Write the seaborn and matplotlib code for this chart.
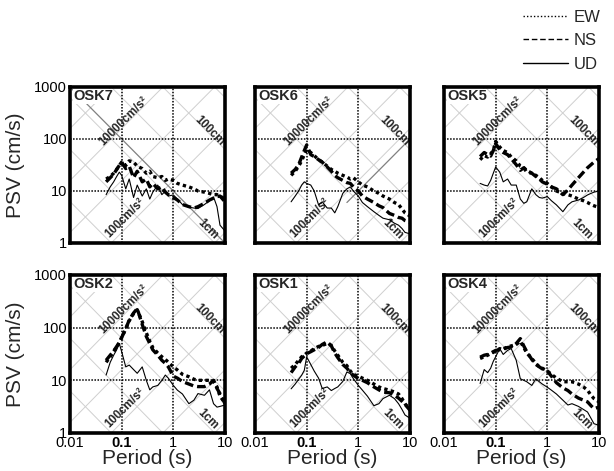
import numpy as np
import pandas as pd
import matplotlib
matplotlib.use("Agg")
import matplotlib.pyplot as plt
import seaborn as sns
from matplotlib.lines import Line2D

# ---------------- data ----------------
periods = [0.05, 0.06, 0.07, 0.08, 0.09, 0.1, 0.12, 0.14, 0.17, 0.2, 0.25, 0.3, 0.35, 0.4,
           0.5, 0.6, 0.7, 0.8, 1.0, 1.2, 1.5, 2.0, 2.5, 3.0, 4.0, 5.0, 6.0, 7.0, 8.0, 10.0]

components = ["EW", "NS", "UD"]
stations_top = ["OSK7", "OSK6", "OSK5"]
stations_bottom = ["OSK2", "OSK1", "OSK4"]

osk7_ew = [17, 19, 22, 26, 31, 36, 31, 38, 36, 30, 27, 22, 24, 19, 18, 19, 16, 17, 16, 14,
           13, 12, 11, 10, 9.5, 9, 8.5, 8.5, 8, 7]
osk7_ns = [15, 18, 21, 26, 31, 36, 27, 30, 18, 24, 15, 17, 12, 14, 11, 12, 9.5, 8.5, 7.5, 6.7,
           5.5, 5, 4.7, 5, 5.8, 6.7, 7.3, 7.8, 8, 6.2]
osk7_ud = [8.5, 12, 15, 19, 23, 20, 11, 17, 7.5, 13, 8, 11, 7, 9.5, 13, 8.5, 10, 8, 8.4, 7,
           5.5, 4.9, 4.7, 4.6, 5.5, 6.5, 7.7, 5, 2.2, 1.7]

osk6_ew = [20, 24, 30, 38, 50, 62, 55, 48, 40, 36, 30, 26, 24, 22, 20, 18.6, 17, 18, 15, 13,
           12, 10, 9, 8, 7, 6, 5.5, 4.5, 3.8, 3.3]
osk6_ns = [22, 26, 32, 45, 60, 77, 50, 46, 40, 36, 29, 24, 20, 18, 16, 14.5, 14, 12, 10,
           8, 7, 6, 5.2, 4.8, 3.7, 3.4, 3.1, 3, 2.7, 2.5]
osk6_ud = [6.2, 8, 10, 13, 15, 14, 13, 10, 5.4, 6.2, 4.7, 4.7, 3.8, 5, 9, 11, 12, 10, 8,
           6, 5, 4, 3.4, 3, 2.8, 2.4, 2.2, 1.9, 1.6, 1.5]

osk5_ew = [40, 48, 45, 52, 60, 90, 70, 60, 55, 45, 38, 30, 28, 25, 22, 20, 18, 16, 14, 12,
           10, 9, 8.5, 8, 7, 6.5, 6, 5.5, 5.2, 4.8]
osk5_ns = [46, 55, 50, 47, 60, 82, 62, 55, 50, 42, 32, 25, 28, 23, 22, 19, 17, 15, 13.5, 12,
           11, 8.5, 10.5, 13, 18, 23, 28, 32, 36, 42]
osk5_ud = [14, 13, 12.5, 16, 22, 29, 23, 15, 17, 13, 13, 7, 5.8, 6.2, 11, 8.5, 7.5, 7.3, 7.8,
           6.5, 5.4, 4, 5.4, 6.2, 6.7, 7.5, 8.4, 9, 9.5, 10]

osk2_ew = [22, 28, 35, 43, 52, 65, 95, 135, 185, 220, 130, 80, 55, 42, 33, 28, 25, 22, 18,
           15.7, 13, 11.7, 10.5, 10, 10, 10, 9.5, 7.5, 5, 3.7]
osk2_ns = [24, 30, 36, 44, 52, 65, 95, 140, 190, 230, 115, 68, 50, 38, 30, 24, 21, 18, 12,
           11, 9.5, 8.5, 7.8, 7.6, 7.6, 8.5, 10, 7, 5.6, 3.6]
osk2_ud = [12.6, 22, 30, 38, 50, 35, 18, 19.5, 16, 13.6, 18, 10, 6.6, 7.5, 8, 10, 12.6, 11,
           8, 6.5, 5.5, 3.6, 4.2, 5.6, 5.2, 6.6, 3.6, 3.1, 3.2, 3.4]

osk1_ew = [17, 20, 24, 28, 30, 33, 36, 40, 44, 46, 50, 46, 36, 30, 22, 19, 15, 13, 12, 11,
           10, 8.5, 7.5, 7, 6.5, 6, 5.5, 4.5, 3.6, 2.8]
osk1_ns = [14, 18, 21, 26, 29, 32, 35, 38, 42, 48, 54, 45, 33, 27, 20, 17, 14, 12.5, 10.8,
           10, 9, 7.5, 6.6, 6, 5.8, 5.2, 4.6, 4, 3.5, 2.7]
osk1_ud = [6.9, 8.5, 10.5, 12.5, 15.5, 28, 20, 15, 11, 7, 7.5, 6.4, 7, 7.5, 9.5, 14.4, 13.4,
           10.8, 8, 6.5, 5, 3.3, 3.6, 4.5, 5.2, 4.5, 3.6, 2.8, 2.2, 1.9]

osk4_ew = [26, 28, 30, 32, 34, 36, 40, 38, 44, 45, 48, 55, 42, 33, 26, 21, 18, 17, 15, 13,
           11, 9.4, 9.4, 9.4, 8.5, 7.5, 6.5, 5.2, 4.5, 3.9]
osk4_ns = [27.5, 30, 31, 33, 35, 37, 38, 40, 42, 43, 50, 62, 45, 35, 25, 20, 18, 16.5, 15,
           12, 9, 7.2, 6.4, 5.5, 4.6, 4.2, 3.9, 3.3, 2.9, 3.1]
osk4_ud = [8.7, 16, 14, 17, 23, 28, 40, 31, 37, 40, 24, 10.7, 10, 9.4, 8, 10.7, 9.4, 8.5,
           7.4, 6.5, 5.5, 4.2, 3.4, 3.6, 3.2, 2.8, 2.5, 1.9, 1.5, 1.4]

series = {
    "OSK7": (osk7_ew, osk7_ns, osk7_ud),
    "OSK6": (osk6_ew, osk6_ns, osk6_ud),
    "OSK5": (osk5_ew, osk5_ns, osk5_ud),
    "OSK2": (osk2_ew, osk2_ns, osk2_ud),
    "OSK1": (osk1_ew, osk1_ns, osk1_ud),
    "OSK4": (osk4_ew, osk4_ns, osk4_ud),
}

x_ticks = [0.01, 0.1, 1, 10]
x_ticklabels = ["0.01", "0.1", "1", "10"]
y_ticks = [1, 10, 100, 1000]
y_ticklabels = ["1", "10", "100", "1000"]

# ---------------- styling ----------------
sns.set_style("white")
plt.rcParams["font.family"] = ["Liberation Sans", "DejaVu Sans"]

W, H = 614, 471
fig = plt.figure(figsize=(W / 100, H / 100), dpi=100)

lefts = [70, 255, 444]
pw = 155
rows = [(87, 243), (275, 433)]

line_sizes = {"EW": 2.4, "NS": 2.4, "UD": 0.8}
line_dashes = {"EW": (1, 1), "NS": (2.6, 1.2), "UD": ""}

tgrid = np.logspace(-2, 1, 200)

for r, names in enumerate([stations_top, stations_bottom]):
    top, bot = rows[r]
    for c, name in enumerate(names):
        ax = fig.add_axes([lefts[c] / W, 1 - bot / H, pw / W, (bot - top) / H])
        ax.set_xscale("log")
        ax.set_yscale("log")

        # tripartite diagonal grid (constant acceleration / displacement)
        for k in range(-2, 9):
            ax.plot(tgrid, (10.0 ** k) * tgrid / (2 * np.pi), color="#cfcfcf", lw=0.7, zorder=0.4)
        for k in range(-5, 5):
            ax.plot(tgrid, 2 * np.pi * (10.0 ** k) / tgrid, color="#cfcfcf", lw=0.7, zorder=0.4)
        if name == "OSK7":
            ax.plot(tgrid, 10.0 / tgrid, color="#808080", lw=0.9, zorder=0.45)
        if name == "OSK6":
            tt = tgrid[tgrid >= 0.6]
            ax.plot(tt, 10.0 * tt, color="#808080", lw=0.9, zorder=0.45)

        kw = dict(fontsize=8.5, fontweight="bold", ha="center", va="center",
                  rotation_mode="anchor", zorder=1.5)
        ax.text(0.11, 220, "10000cm/s²", rotation=45, **kw)
        ax.text(0.115, 3.0, "100cm/s²", rotation=45, **kw)
        ax.text(5.0, 145, "100cm", rotation=-45, **kw)
        ax.text(4.7, 1.8, "1cm", rotation=-45, **kw)

        ew, ns, ud = series[name]
        df = pd.DataFrame({
            "period": periods * 3,
            "psv": list(ew) + list(ns) + list(ud),
            "comp": [cc for cc in components for _ in periods],
        })
        sns.lineplot(data=df, x="period", y="psv", style="comp", size="comp",
                     sizes=line_sizes, dashes=line_dashes, color="black",
                     estimator=None, sort=False, legend=False, ax=ax, zorder=2)

        ax.set_xlim(0.01, 10)
        ax.set_ylim(1, 1000)
        ax.set_xticks(x_ticks)
        ax.set_yticks(y_ticks)
        ax.minorticks_off()
        if r == 1:
            ax.set_xticklabels(x_ticklabels)
            for lab in ax.get_xticklabels():
                if lab.get_text() == "0.1":
                    lab.set_fontweight("bold")
        else:
            ax.set_xticklabels([])
        if c == 0:
            ax.set_yticklabels(y_ticklabels)
        else:
            ax.set_yticklabels([])
        ax.tick_params(which="both", length=0, labelsize=10.5, pad=2, colors="black")
        ax.grid(True, which="major", ls=(0, (1, 1)), color="black", lw=1.1)
        ax.set_axisbelow(True)
        ax.set_xlabel("")
        ax.set_ylabel("")
        for sp in ax.spines.values():
            sp.set_visible(True)
            sp.set_color("black")
            sp.set_linewidth(2.6)

        ax.text(0.02, 0.985, name, transform=ax.transAxes, ha="left", va="top",
                fontsize=10.5, fontweight="bold", zorder=5,
                bbox=dict(facecolor="white", edgecolor="none", pad=0.3))

        if r == 1:
            fig.text((lefts[c] + pw / 2) / W, 1 - 458 / H, "Period (s)",
                     ha="center", va="center", fontsize=15)
    fig.text(16 / W, 1 - ((top + bot) / 2) / H, "PSV (cm/s)", rotation=90,
             ha="center", va="center", fontsize=15)

handles = [
    Line2D([], [], color="black", lw=1.0, ls=(0, (1, 1.5))),
    Line2D([], [], color="black", lw=1.0, ls=(0, (4, 2))),
    Line2D([], [], color="black", lw=1.0, ls="-"),
]
fig.legend(handles, components, loc="upper right", bbox_to_anchor=(0.995, 1.0),
           frameon=False, fontsize=12, handlelength=2.7, handletextpad=0.35,
           labelspacing=0.5, borderaxespad=0.2)

fig.savefig("out.png", dpi=100)
